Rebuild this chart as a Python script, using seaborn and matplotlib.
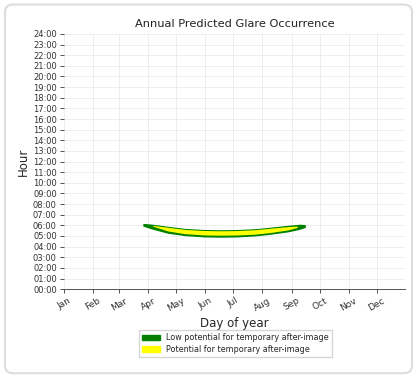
import matplotlib
matplotlib.use('Agg')
import matplotlib.pyplot as plt
import matplotlib.patches as mpatches
import seaborn as sns
from matplotlib.patches import FancyBboxPatch

# month tick positions (day of year) and labels
month_days = [1, 32, 60, 91, 121, 152, 182, 213, 244, 274, 305, 335]
month_labels = ['Jan', 'Feb', 'Mar', 'Apr', 'May', 'Jun', 'Jul', 'Aug', 'Sep', 'Oct', 'Nov', 'Dec']
hour_ticks = list(range(0, 25))
hour_labels = ['%02d:00' % h for h in hour_ticks]

# green band (low potential), hours
green_day = [86, 95, 112, 130, 150, 167, 185, 205, 221, 240, 252, 258]
green_low = [5.98, 5.72, 5.32, 5.10, 4.98, 4.95, 4.97, 5.07, 5.22, 5.45, 5.68, 5.85]
green_high = [6.12, 6.05, 5.85, 5.65, 5.55, 5.52, 5.54, 5.62, 5.76, 5.94, 6.04, 6.02]

# yellow band (potential for after-image)
yellow_day = [96, 112, 130, 150, 167, 185, 205, 221, 240, 250]
yellow_low = [5.92, 5.47, 5.22, 5.10, 5.07, 5.09, 5.17, 5.32, 5.57, 5.80]
yellow_high = [6.00, 5.82, 5.62, 5.52, 5.49, 5.51, 5.59, 5.73, 5.88, 5.94]

sns.set_style('white')
plt.rcParams['font.family'] = ['DejaVu Sans']

fig = plt.figure(figsize=(4.17, 3.77), dpi=100)
fig.patches.append(FancyBboxPatch((0.012, 0.01), 0.976, 0.978, boxstyle='round,pad=0,rounding_size=0.02',
                                  transform=fig.transFigure, facecolor='none', edgecolor='#dddddd',
                                  lw=1.5, zorder=-1))
ax = fig.add_axes([0.153, 0.233, 0.818, 0.677])
ax.set_facecolor('white')

ax.fill_between(green_day, green_low, green_high, color='green', lw=1.0, edgecolor='green')
ax.fill_between(yellow_day, yellow_low, yellow_high, color='yellow', lw=0)

ax.set_xlim(1, 365)
ax.set_ylim(0, 24)
ax.set_xticks(month_days)
ax.set_xticklabels(month_labels, rotation=30, fontsize=6.5, color='#333333')
ax.set_yticks(hour_ticks)
ax.set_yticklabels(hour_labels, fontsize=6, color='#333333')
ax.tick_params(axis='both', left=True, bottom=True, length=3, width=0.6, color='#333333', pad=2)
ax.grid(True, color='#e8e8e8', lw=0.5)
ax.set_axisbelow(True)
for s in ['top', 'right', 'left']:
    ax.spines[s].set_visible(False)
ax.spines['bottom'].set_color('#555555')
ax.spines['bottom'].set_linewidth(0.7)

ax.set_title('Annual Predicted Glare Occurrence', fontsize=8.2, pad=5, color='#222222')
ax.set_xlabel('Day of year', fontsize=8.5, labelpad=3)
ax.set_ylabel('Hour', fontsize=8.5, labelpad=2)

handles = [mpatches.Patch(color='green', label='Low potential for temporary after-image'),
           mpatches.Patch(color='yellow', label='Potential for temporary after-image')]
fig.legend(handles=handles, loc='upper center', bbox_to_anchor=(0.565, 0.135), fontsize=5.8,
           frameon=True, fancybox=False, edgecolor='#cccccc', handlelength=2.2, borderpad=0.4,
           labelspacing=0.3)

fig.savefig('out.png', dpi=100)
